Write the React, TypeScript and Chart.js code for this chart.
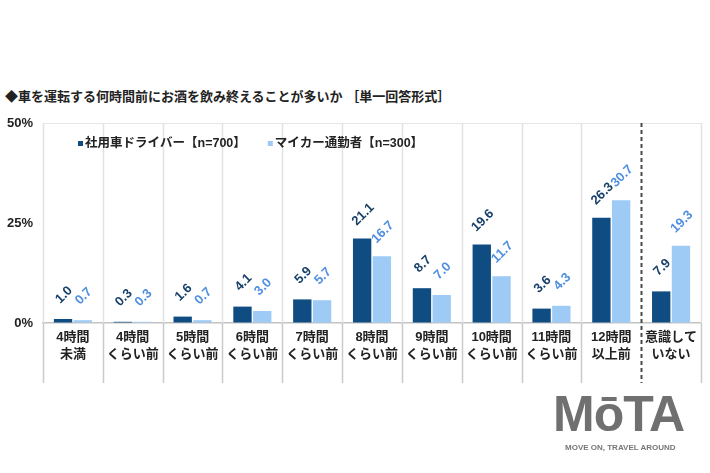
import React, { useEffect, useRef } from "react";
import { Chart, registerables } from "chart.js";

Chart.register(...registerables);

const categories: string[][] = [
  ["4時間", "未満"],
  ["4時間", "くらい前"],
  ["5時間", "くらい前"],
  ["6時間", "くらい前"],
  ["7時間", "くらい前"],
  ["8時間", "くらい前"],
  ["9時間", "くらい前"],
  ["10時間", "くらい前"],
  ["11時間", "くらい前"],
  ["12時間", "以上前"],
  ["意識して", "いない"],
];
const companyDriver = [1.0, 0.3, 1.6, 4.1, 5.9, 21.1, 8.7, 19.6, 3.6, 26.3, 7.9];
const commuter = [0.7, 0.3, 0.7, 3.0, 5.7, 16.7, 7.0, 11.7, 4.3, 30.7, 19.3];
const seriesNames = ["社用車ドライバー【n=700】", "マイカー通勤者【n=300】"];
const yTicks = [0, 25, 50];
const titleText = "◆車を運転する何時間前にお酒を飲み終えることが多いか ［単一回答形式］";

const FONT = "'Liberation Sans', 'Noto Sans CJK JP', sans-serif";
const barColors = ["#0f4c81", "#9dcbf6"];
const labelColors = ["#17406a", "#4f8fe0"];

const separatorPlugin = {
  id: "separators",
  beforeDatasetsDraw(chart: any) {
    const { ctx, chartArea } = chart;
    const xs = chart.scales.x;
    const n = categories.length;
    const w = (xs.right - xs.left) / n;
    ctx.save();
    for (let i = 0; i <= n; i++) {
      const x = Math.round(xs.getPixelForValue(i) - w / 2) + 0.5;
      if (i === n - 1) {
        ctx.beginPath();
        ctx.strokeStyle = "#4a4a4a";
        ctx.lineWidth = 2;
        ctx.setLineDash([4, 3]);
        ctx.moveTo(x, chartArea.top);
        ctx.lineTo(x, chartArea.bottom + 60);
        ctx.stroke();
      } else {
        ctx.setLineDash([]);
        ctx.lineWidth = 1.5;
        ctx.beginPath();
        ctx.strokeStyle = "#e2e2e2";
        ctx.moveTo(x, chartArea.top);
        ctx.lineTo(x, chartArea.bottom);
        ctx.stroke();
        ctx.beginPath();
        ctx.strokeStyle = "#cacaca";
        ctx.moveTo(x, chartArea.bottom);
        ctx.lineTo(x, chartArea.bottom + 60);
        ctx.stroke();
      }
    }
    ctx.restore();
  },
};

const valueLabelPlugin = {
  id: "valueLabels",
  afterDatasetsDraw(chart: any) {
    const { ctx } = chart;
    ctx.save();
    ctx.font = `bold 13px ${FONT}`;
    ctx.textAlign = "center";
    ctx.textBaseline = "middle";
    chart.data.datasets.forEach((ds: any, di: number) => {
      const meta = chart.getDatasetMeta(di);
      meta.data.forEach((el: any, i: number) => {
        const v = ds.data[i] as number;
        ctx.save();
        ctx.translate(el.x + 1, el.y - 24);
        ctx.rotate((-45 * Math.PI) / 180);
        ctx.fillStyle = labelColors[di];
        ctx.fillText(v.toFixed(1), 0, 0);
        ctx.restore();
      });
    });
    ctx.restore();
  },
};

const legendPlugin = {
  id: "innerLegend",
  afterDraw(chart: any) {
    const { ctx, chartArea } = chart;
    ctx.save();
    ctx.font = `bold 12.5px ${FONT}`;
    ctx.textBaseline = "middle";
    let x = chartArea.left + 35;
    const y = chartArea.top + 21;
    chart.data.datasets.forEach((ds: any, di: number) => {
      ctx.fillStyle = barColors[di];
      ctx.fillRect(x, y - 3, 5, 5);
      ctx.fillStyle = "#222";
      ctx.fillText(ds.label, x + 7, y);
      x += 7 + ctx.measureText(ds.label).width + 22;
    });
    ctx.restore();
  },
};

export default function App() {
  const ref = useRef<HTMLCanvasElement | null>(null);
  useEffect(() => {
    if (!ref.current) return;
    const chart = new Chart(ref.current, {
      type: "bar",
      data: {
        labels: categories,
        datasets: [
          {
            label: seriesNames[0],
            data: companyDriver,
            backgroundColor: barColors[0],
            categoryPercentage: 0.66,
            barPercentage: 0.93,
          },
          {
            label: seriesNames[1],
            data: commuter,
            backgroundColor: barColors[1],
            categoryPercentage: 0.66,
            barPercentage: 0.93,
          },
        ],
      },
      options: {
        animation: false,
        responsive: true,
        maintainAspectRatio: false,
        layout: { padding: { top: 123, right: 9, left: 0, bottom: 0 } },
        plugins: {
          legend: { display: false },
          tooltip: { enabled: false },
          title: { display: false },
        },
        scales: {
          x: {
            grid: { display: false, drawTicks: false },
            border: { display: true, color: "#c4c4c4", width: 1.5 },
            ticks: {
              color: "#222",
              font: { family: FONT, size: 13, weight: "bold", lineHeight: 1.3 },
              padding: 6,
              maxRotation: 0,
              autoSkip: false,
            },
            afterFit: (s: any) => {
              s.height = 150;
            },
          },
          y: {
            min: 0,
            max: 50,
            afterBuildTicks: (s: any) => {
              s.ticks = yTicks.map((v) => ({ value: v }));
            },
            grid: {
              drawTicks: false,
              color: (c: any) =>
                c.tick && c.tick.value === 50 ? "#e6e6e6" : "rgba(0,0,0,0)",
            },
            border: { display: false },
            ticks: {
              color: "#222",
              font: { family: FONT, size: 13, weight: "bold" },
              padding: 10,
              callback: (v: any) => `${v}%`,
            },
            afterFit: (s: any) => {
              s.width = 43;
            },
          },
        },
      },
      plugins: [separatorPlugin, valueLabelPlugin, legendPlugin],
    } as any);
    return () => chart.destroy();
  }, []);

  return (
    <div
      style={{
        position: "absolute",
        left: 0,
        top: 0,
        width: 710,
        height: 473,
        background: "#fff",
        overflow: "hidden",
      }}
    >
      <div
        style={{
          position: "absolute",
          left: 5,
          top: 88,
          fontFamily: FONT,
          fontWeight: "bold",
          fontSize: 13,
          color: "#222",
          whiteSpace: "nowrap",
          lineHeight: "18px",
        }}
      >
        {titleText}
      </div>
      <canvas ref={ref} style={{ position: "absolute", left: 0, top: 0, width: 710, height: 473 }} />
      <div
        style={{
          position: "absolute",
          left: 553,
          top: 384,
          fontFamily: "'Liberation Sans', sans-serif",
          fontWeight: "bold",
          fontSize: 50,
          color: "#707070",
          letterSpacing: -1,
          lineHeight: "60px",
          whiteSpace: "nowrap",
        }}
      >
        MōTA
      </div>
      <div
        style={{
          position: "absolute",
          left: 565,
          top: 442,
          fontFamily: "'Liberation Sans', sans-serif",
          fontWeight: "bold",
          fontSize: 8,
          color: "#777",
          lineHeight: "12px",
          whiteSpace: "nowrap",
        }}
      >
        MOVE ON, TRAVEL AROUND
      </div>
    </div>
  );
}
